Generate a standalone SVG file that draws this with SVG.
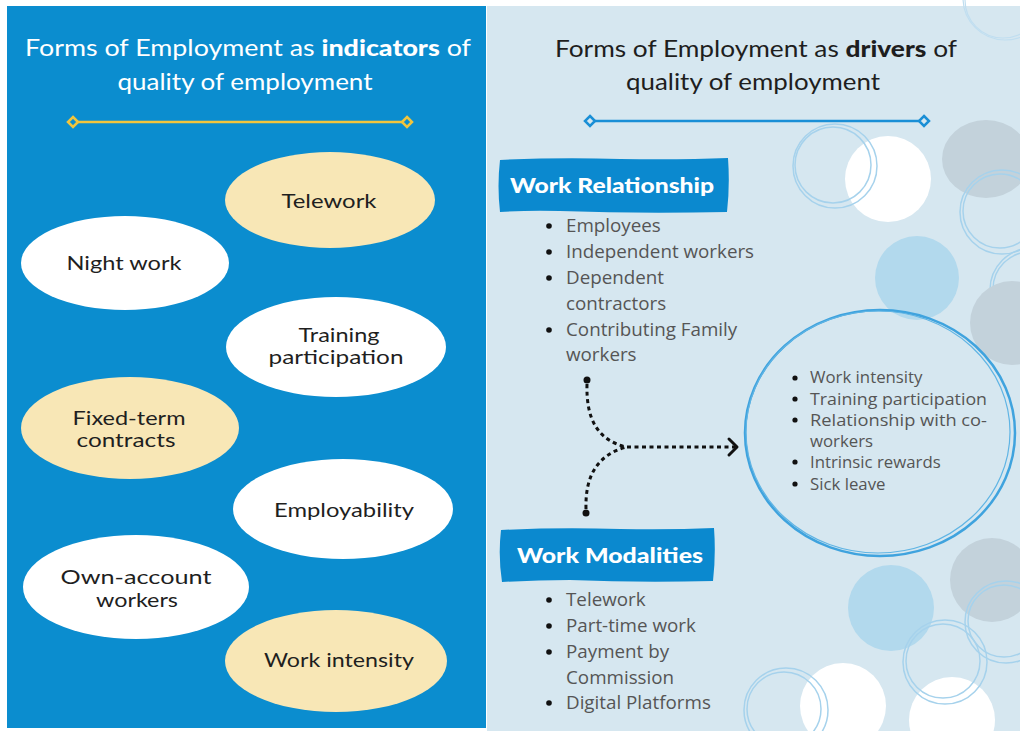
<svg xmlns="http://www.w3.org/2000/svg" width="1020" height="731" viewBox="0 0 1020 731">
<defs>
<style>
.title{font-family:"Lato","Liberation Sans",sans-serif;font-size:23px;}
.ell{font-family:"Lato","Liberation Sans",sans-serif;font-size:20px;fill:#1f1f1f;text-anchor:middle;}
.blt{font-family:"Open Sans","Liberation Sans",sans-serif;font-size:18.8px;fill:#555555;}
.blt2{font-family:"Open Sans","Liberation Sans",sans-serif;font-size:16.8px;fill:#555555;}
.tag{font-family:"Lato","Liberation Sans",sans-serif;font-size:20px;font-weight:900;fill:#ffffff;}
.ring{fill:none;stroke:#a6d2ec;stroke-width:1.5;}
.dot{fill:#111;}
.conn{fill:none;stroke:#111;stroke-width:3;stroke-dasharray:4 3.5;}
</style>
</defs>
<rect x="0" y="0" width="1020" height="731" fill="#ffffff"/>
<rect x="7" y="6" width="479" height="722" fill="#0b8dcf"/>
<rect x="487" y="6" width="533" height="725" fill="#d6e7f0"/>

<!-- decorative circles right panel -->
<g id="decor">
<circle cx="1005" cy="-2" r="42" fill="none" stroke="#c0def0" stroke-width="1.2"/><circle cx="1003" cy="0" r="38" fill="none" stroke="#c0def0" stroke-width="1.2"/>
<circle cx="888" cy="179" r="43" fill="#ffffff"/>
<circle cx="835" cy="166" r="42" class="ring"/><circle cx="833" cy="165" r="38" class="ring"/>
<ellipse cx="986" cy="159" rx="44" ry="39" fill="#c3d2db"/>
<circle cx="1002" cy="212" r="42" class="ring"/><circle cx="1000" cy="211" r="37" class="ring"/>
<circle cx="917" cy="278" r="42" fill="#b2d9ed"/>
<circle cx="1032" cy="290" r="42" class="ring"/><circle cx="1030" cy="289" r="37" class="ring"/>
<circle cx="1012" cy="323" r="42" fill="#c3d2db"/>
<circle cx="992" cy="580" r="42" fill="#c3d2db"/>
<circle cx="891" cy="608" r="43" fill="#b2d9ed"/>
<circle cx="1006" cy="622" r="41" class="ring"/><circle cx="1004" cy="621" r="36" class="ring"/>
<circle cx="843" cy="706" r="43" fill="#ffffff"/>
<circle cx="952" cy="720" r="43" fill="#ffffff"/>
<circle cx="945" cy="662" r="42" class="ring"/><circle cx="943" cy="661" r="37" class="ring"/>
<circle cx="786" cy="710" r="42" class="ring"/><circle cx="784" cy="709" r="37" class="ring"/>
</g>

<!-- titles -->
<g id="title-left">
<text class="title" x="248" y="56" text-anchor="middle" fill="#ffffff" textLength="446" lengthAdjust="spacingAndGlyphs">Forms of Employment as <tspan font-weight="900">indicators</tspan> of</text>
<text class="title" x="245" y="90" text-anchor="middle" fill="#ffffff" textLength="255" lengthAdjust="spacingAndGlyphs">quality of employment</text>
<line x1="75" y1="122" x2="405" y2="122" stroke="#f2c53d" stroke-width="2.5"/>
<path d="M73,117 L78,122 L73,127 L68,122 Z" fill="#0b8dcf" stroke="#f2c53d" stroke-width="2.5"/>
<path d="M407,117 L412,122 L407,127 L402,122 Z" fill="#0b8dcf" stroke="#f2c53d" stroke-width="2.5"/>
</g>
<g id="title-right">
<text class="title" x="756" y="57" text-anchor="middle" fill="#1e1e1e" textLength="402" lengthAdjust="spacingAndGlyphs">Forms of Employment as <tspan font-weight="900">drivers</tspan> of</text>
<text class="title" x="753" y="90" text-anchor="middle" fill="#1e1e1e" textLength="254" lengthAdjust="spacingAndGlyphs">quality of employment</text>
<line x1="592" y1="121" x2="922" y2="121" stroke="#1a8fd6" stroke-width="2.5"/>
<path d="M590,116 L595,121 L590,126 L585,121 Z" fill="#d6e7f0" stroke="#1a8fd6" stroke-width="2.5"/>
<path d="M924,116 L929,121 L924,126 L919,121 Z" fill="#d6e7f0" stroke="#1a8fd6" stroke-width="2.5"/>
</g>

<!-- left ellipses -->
<g id="n-telework"><ellipse cx="330" cy="200" rx="105" ry="48" fill="#f8e7b6"/><text class="ell" x="329" y="208" textLength="95" lengthAdjust="spacingAndGlyphs">Telework</text></g>
<g id="n-nightwork"><ellipse cx="125" cy="263" rx="104" ry="47" fill="#ffffff"/><text class="ell" x="124" y="270" textLength="115" lengthAdjust="spacingAndGlyphs">Night work</text></g>
<g id="n-training"><ellipse cx="336" cy="347" rx="110" ry="50" fill="#ffffff"/><text class="ell" x="339" y="342" textLength="81" lengthAdjust="spacingAndGlyphs">Training</text><text class="ell" x="336" y="364" textLength="135" lengthAdjust="spacingAndGlyphs">participation</text></g>
<g id="n-fixedterm"><ellipse cx="130" cy="428" rx="109" ry="51" fill="#f8e7b6"/><text class="ell" x="129" y="425" textLength="113" lengthAdjust="spacingAndGlyphs">Fixed-term</text><text class="ell" x="126" y="447" textLength="99" lengthAdjust="spacingAndGlyphs">contracts</text></g>
<g id="n-employability"><ellipse cx="343" cy="509" rx="110" ry="50" fill="#ffffff"/><text class="ell" x="344" y="517" textLength="140" lengthAdjust="spacingAndGlyphs">Employability</text></g>
<g id="n-ownaccount"><ellipse cx="136" cy="587" rx="113" ry="52" fill="#ffffff"/><text class="ell" x="136" y="584" textLength="151" lengthAdjust="spacingAndGlyphs">Own-account</text><text class="ell" x="137" y="607" textLength="82" lengthAdjust="spacingAndGlyphs">workers</text></g>
<g id="n-workintensity"><ellipse cx="336" cy="661" rx="111" ry="51" fill="#f8e7b6"/><text class="ell" x="339" y="667" textLength="150" lengthAdjust="spacingAndGlyphs">Work intensity</text></g>

<!-- Work Relationship -->
<g id="n-workrelationship">
<path d="M500,160 Q560,157 620,159 Q680,160 728,158 Q730,186 727,212 Q640,214 560,211 Q530,210 500,212 Q497,186 500,160 Z" fill="#0b89cf"/>
<text class="tag" x="510" y="193" textLength="204" lengthAdjust="spacingAndGlyphs">Work Relationship</text>
<circle class="dot" cx="549" cy="226" r="2.8"/><text class="blt" x="566" y="232">Employees</text>
<circle class="dot" cx="549" cy="252" r="2.8"/><text class="blt" x="566" y="258">Independent workers</text>
<circle class="dot" cx="549" cy="278" r="2.8"/><text class="blt" x="566" y="284">Dependent</text>
<text class="blt" x="566" y="310">contractors</text>
<circle class="dot" cx="549" cy="330" r="2.8"/><text class="blt" x="566" y="336">Contributing Family</text>
<text class="blt" x="566" y="361">workers</text>
</g>

<!-- Work Modalities -->
<g id="n-workmodalities">
<path d="M501,530 Q560,527 620,529 Q670,530 714,528 Q716,555 713,581 Q640,583 570,580 Q536,580 502,582 Q498,556 501,530 Z" fill="#0b89cf"/>
<text class="tag" x="517" y="563" textLength="186" lengthAdjust="spacingAndGlyphs">Work Modalities</text>
<circle class="dot" cx="549" cy="600" r="2.8"/><text class="blt" x="566" y="606">Telework</text>
<circle class="dot" cx="549" cy="626" r="2.8"/><text class="blt" x="566" y="632">Part-time work</text>
<circle class="dot" cx="549" cy="652" r="2.8"/><text class="blt" x="566" y="658">Payment by</text>
<text class="blt" x="566" y="684">Commission</text>
<circle class="dot" cx="549" cy="703" r="2.8"/><text class="blt" x="566" y="709">Digital Platforms</text>
</g>

<!-- Outcomes circle -->
<g id="n-outcomes">
<ellipse cx="880" cy="433" rx="135" ry="123" fill="none" stroke="#3fa3de" stroke-width="2.5"/>
<ellipse cx="878" cy="432" rx="132" ry="121" fill="none" stroke="#5fb4e4" stroke-width="1.2"/>
<circle class="dot" cx="795" cy="378" r="2.6"/><text class="blt2" x="810" y="383">Work intensity</text>
<circle class="dot" cx="795" cy="399" r="2.6"/><text class="blt2" x="810" y="405" textLength="177" lengthAdjust="spacingAndGlyphs">Training participation</text>
<circle class="dot" cx="795" cy="420" r="2.6"/><text class="blt2" x="810" y="426" textLength="177" lengthAdjust="spacingAndGlyphs">Relationship with co-</text>
<text class="blt2" x="810" y="447">workers</text>
<circle class="dot" cx="795" cy="462" r="2.6"/><text class="blt2" x="810" y="468">Intrinsic rewards</text>
<circle class="dot" cx="795" cy="484" r="2.6"/><text class="blt2" x="810" y="490">Sick leave</text>
</g>

<!-- connectors -->
<g id="connectors">
<circle class="dot" cx="587" cy="380" r="3.5"/>
<circle class="dot" cx="586" cy="513" r="3.5"/>
<path class="conn" d="M587,384 C586,420 598,440 626,447"/>
<path class="conn" d="M586,509 C585,475 598,455 626,447"/>
<path class="conn" d="M627,447 L735,447"/>
<path d="M729,439 L737,447 L729,455" fill="none" stroke="#111" stroke-width="3" stroke-linecap="round" stroke-linejoin="round"/>
</g>
</svg>
